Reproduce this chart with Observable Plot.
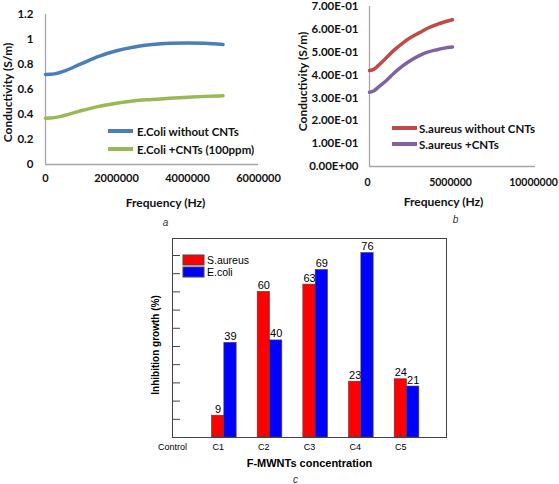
<!DOCTYPE html>
<html><head><meta charset="utf-8">
<script src="https://cdn.jsdelivr.net/npm/d3@7"></script>
<script src="https://cdn.jsdelivr.net/npm/@observablehq/plot@0.6"></script>
<style>
html,body{margin:0;padding:0;background:#fff;}
#wrap{position:relative;width:559px;height:484px;overflow:hidden;background:#fff;}
.panel{position:absolute;}
.leg{position:absolute;}
#legA,#legB{font:bold 11.5px Lato,sans-serif;color:#111;}
#legA .lga-swatches,#legB .lgb-swatches{font:bold 11.5px Lato,sans-serif;color:#111;margin:0;}
#legA .lga-swatch{height:18px;padding:0;margin:0;}
#legB .lgb-swatch{height:16px;padding:0;margin:0;}
#legA .lga-swatch svg{margin-right:4px;}
#legB .lgb-swatch svg{margin-right:2px;}
#legC .lgc-swatches{font:10.5px "Liberation Sans",Arial,sans-serif;color:#000;margin:0;}
#legC .lgc-swatch{height:12px;padding:0;margin:0;}
#legC .lgc-swatch svg{margin-right:3px;}
#legC .lgc-swatch svg rect{stroke:#444;stroke-width:1px;}
</style></head>
<body><div id="wrap"></div>
<script>
// ---- Panel a / b data (frequency sweep) ----
const freqHz = [0, 250000, 500000, 1000000, 1500000, 2000000, 2500000, 3000000, 3500000, 4000000, 4500000, 5000000];
const ecoliWithout = [0.72, 0.725, 0.745, 0.805, 0.865, 0.91, 0.94, 0.96, 0.97, 0.972, 0.97, 0.96];
const ecoliCNT     = [0.37, 0.375, 0.39, 0.43, 0.465, 0.49, 0.51, 0.52, 0.53, 0.538, 0.545, 0.55];
const saureusWithout = [0.42, 0.425, 0.44, 0.475, 0.51, 0.54, 0.565, 0.585, 0.605, 0.62, 0.632, 0.642];
const saureusCNT     = [0.325, 0.33, 0.345, 0.375, 0.41, 0.44, 0.465, 0.485, 0.5, 0.51, 0.518, 0.523];
const seriesA = ["E.Coli without CNTs", "E.Coli +CNTs (100ppm)"];
const colorsA = ["#4A7EBB", "#98B954"];
const seriesB = ["S.aureus without CNTs", "S.aureus +CNTs"];
const colorsB = ["#BE4B48", "#7F63A1"];
const yTicksA = [0, 0.2, 0.4, 0.6, 0.8, 1, 1.2];
const xTicksA = [0, 2000000, 4000000, 6000000];
const yTicksB = [0, 0.1, 0.2, 0.3, 0.4, 0.5, 0.6, 0.7];
const xTicksB = [0, 5000000, 10000000];

// ---- Panel c data ----
const categories = ["Control", "C1", "C2", "C3", "C4", "C5"];
const sAureus = [0, 9, 60, 63, 23, 24];
const eColi   = [0, 39, 40, 69, 76, 21];
const seriesC = ["S.aureus", "E.coli"];
const colorsC = ["#ff0000", "#0000ff"];
const yTicksC = [7.5, 15, 22.5, 30, 37.5, 45, 52.5, 60, 67.5, 75];

const wrap = document.getElementById("wrap");
function place(el, left, top, id) {
  const d = document.createElement("div");
  d.className = id ? "leg" : "panel";
  if (id) d.id = id;
  d.style.left = left + "px"; d.style.top = top + "px";
  d.appendChild(el); wrap.appendChild(d);
}
const fmtDec = d => `${+d.toFixed(1)}`;
const fmtE = d => { const [m, e] = d.toExponential(2).split("e"); return m + "E" + e[0] + e.slice(1).padStart(2, "0"); };
const axisGray = "#a6a6a6";
const styleAB = {fontFamily: "Lato, sans-serif", fontSize: "11px", fontWeight: "bold", color: "#111", background: "transparent", overflow: "visible"};

// ---- Panel a ----
const rowsA = freqHz.flatMap((f, i) => [{f, v: ecoliWithout[i], s: seriesA[0]}, {f, v: ecoliCNT[i], s: seriesA[1]}]);
const plotA = Plot.plot({
  width: 280, height: 230,
  marginLeft: 45, marginRight: 22, marginTop: 14, marginBottom: 66,
  style: styleAB,
  x: {domain: [0, 6000000]},
  y: {domain: [0, 1.2]},
  color: {domain: seriesA, range: colorsA},
  marks: [
    Plot.ruleX([0], {stroke: axisGray, strokeWidth: 1.3}),
    Plot.ruleY([0], {stroke: axisGray, strokeWidth: 1.3}),
    Plot.axisY({ticks: yTicksA, tickSize: 0, tickPadding: 12, tickFormat: fmtDec, label: null, fontSize: 11.5}),
    Plot.axisX({ticks: xTicksA, tickSize: 0, tickPadding: 10, tickFormat: d => String(d), label: null}),
    Plot.line(rowsA, {x: "f", y: "v", stroke: "s", strokeWidth: 3.5, curve: "monotone-x"}),
    Plot.text(["Frequency (Hz)"], {text: d => d, frameAnchor: "bottom", dx: 13.5, dy: 39, fontSize: 12, lineAnchor: "middle", textAnchor: "middle"}),
    Plot.text(["Conductivity (S/m)"], {text: d => d, frameAnchor: "left", rotate: -90, dx: -37, dy: 3, fontSize: 12, lineAnchor: "middle", textAnchor: "middle"}),
    Plot.text(["a"], {text: d => d, frameAnchor: "bottom", dx: 13.5, dy: 61, fontStyle: "italic", fontWeight: "normal", fontSize: 10, fill: "#333", fontFamily: "Liberation Sans, Arial", textAnchor: "middle"})
  ]
});
place(plotA, 0, 0);

// ---- Panel b ----
const rowsB = freqHz.flatMap((f, i) => [{f, v: saureusWithout[i], s: seriesB[0]}, {f, v: saureusCNT[i], s: seriesB[1]}]);
const plotB = Plot.plot({
  width: 279, height: 230,
  marginLeft: 89, marginRight: 24, marginTop: 6, marginBottom: 64,
  style: styleAB,
  x: {domain: [0, 10000000]},
  y: {domain: [0, 0.7]},
  color: {domain: seriesB, range: colorsB},
  marks: [
    Plot.ruleX([0], {stroke: axisGray, strokeWidth: 1.3}),
    Plot.ruleY([0], {stroke: axisGray, strokeWidth: 1.3}),
    Plot.axisY({ticks: yTicksB, tickSize: 0, tickPadding: 11, tickFormat: fmtE, label: null, fontSize: 11.5}),
    Plot.axisX({ticks: xTicksB, tickSize: 0, tickPadding: 12, tickFormat: d => String(d), label: null, fontSize: 10.5, dx: -2}),
    Plot.line(rowsB, {x: "f", y: "v", stroke: "s", strokeWidth: 3.5, curve: "monotone-x"}),
    Plot.text(["Frequency (Hz)"], {text: d => d, frameAnchor: "bottom", dx: -9, dy: 36, fontSize: 12, lineAnchor: "middle", textAnchor: "middle"}),
    Plot.text(["Conductivity (S/m)"], {text: d => d, frameAnchor: "left", rotate: -90, dx: -66, dy: -5, fontSize: 12, lineAnchor: "middle", textAnchor: "middle"}),
    Plot.text(["b"], {text: d => d, frameAnchor: "bottom", dx: 3, dy: 56, fontStyle: "italic", fontWeight: "normal", fontSize: 10, fill: "#333", fontFamily: "Liberation Sans, Arial", textAnchor: "middle"})
  ]
});
place(plotB, 280, 0);

// ---- Panel c ----
const rowsC = categories.map((c, i) => ({i, c, sa: sAureus[i], ec: eColi[i]})).filter(d => d.i > 0);
const catIdx = categories.map((c, i) => i);
const plotC = Plot.plot({
  width: 559, height: 254,
  marginLeft: 172, marginRight: 113, marginTop: 8, marginBottom: 47,
  style: {fontFamily: "'Liberation Sans', Arial, sans-serif", fontSize: "9px", color: "#000", background: "transparent", overflow: "visible"},
  x: {domain: [0, 6]},
  y: {domain: [0, 82]},
  marks: [
    Plot.rect(rowsC, {x1: d => d.i - 0.135, x2: d => d.i + 0.135, y1: 0, y2: "sa", fill: colorsC[0], stroke: "#444", strokeWidth: 0.6}),
    Plot.text(rowsC, {x: "i", y: "sa", text: "sa", lineAnchor: "bottom", dy: -3, fontSize: 11}),
    Plot.rect(rowsC, {x1: d => d.i + 0.135, x2: d => d.i + 0.405, y1: 0, y2: "ec", fill: colorsC[1], stroke: "#444", strokeWidth: 0.6}),
    Plot.text(rowsC, {x: d => d.i + 0.27, y: "ec", text: "ec", lineAnchor: "bottom", dy: -3, fontSize: 11}),
    Plot.frame({stroke: "#444", strokeWidth: 1}),
    Plot.axisY({anchor: "right", frameAnchor: "left", ticks: yTicksC, tickSize: 7, fill: "none", stroke: "#444", label: null}),
    Plot.axisX({anchor: "top", frameAnchor: "bottom", ticks: catIdx.slice(1), tickSize: 4, fill: "none", stroke: "#444", label: null}),
    Plot.axisX({anchor: "bottom", ticks: catIdx, tickSize: 0, tickPadding: 6, tickFormat: i => categories[i], label: null, fontSize: 9}),
    Plot.text(["F-MWNTs concentration"], {text: d => d, frameAnchor: "bottom", dy: 26, fontWeight: "bold", fontSize: 11, lineAnchor: "middle", textAnchor: "middle"}),
    Plot.text(["Inhibition growth (%)"], {text: d => d, frameAnchor: "left", rotate: -90, dx: -17, dy: 7, fontWeight: "bold", fontSize: 10, lineAnchor: "middle", textAnchor: "middle"}),
    Plot.text(["c"], {text: d => d, frameAnchor: "bottom", dx: -14, dy: 42, fontStyle: "italic", fontSize: 10, fill: "#333", lineAnchor: "middle", textAnchor: "middle"})
  ]
});
place(plotC, 0, 230);

// ---- Legends ----
const legA = Plot.legend({color: {type: "ordinal", domain: seriesA, range: colorsA}, legend: "swatches", columns: 1, swatchWidth: 25, swatchHeight: 4, className: "lga"});
place(legA, 108, 122, "legA");
const legB = Plot.legend({color: {type: "ordinal", domain: seriesB, range: colorsB}, legend: "swatches", columns: 1, swatchWidth: 25, swatchHeight: 4, className: "lgb"});
place(legB, 392, 120, "legB");
const legC = Plot.legend({color: {type: "ordinal", domain: seriesC, range: colorsC}, legend: "swatches", columns: 1, swatchWidth: 21, swatchHeight: 10, className: "lgc"});
place(legC, 183, 254, "legC");
</script></body></html>
